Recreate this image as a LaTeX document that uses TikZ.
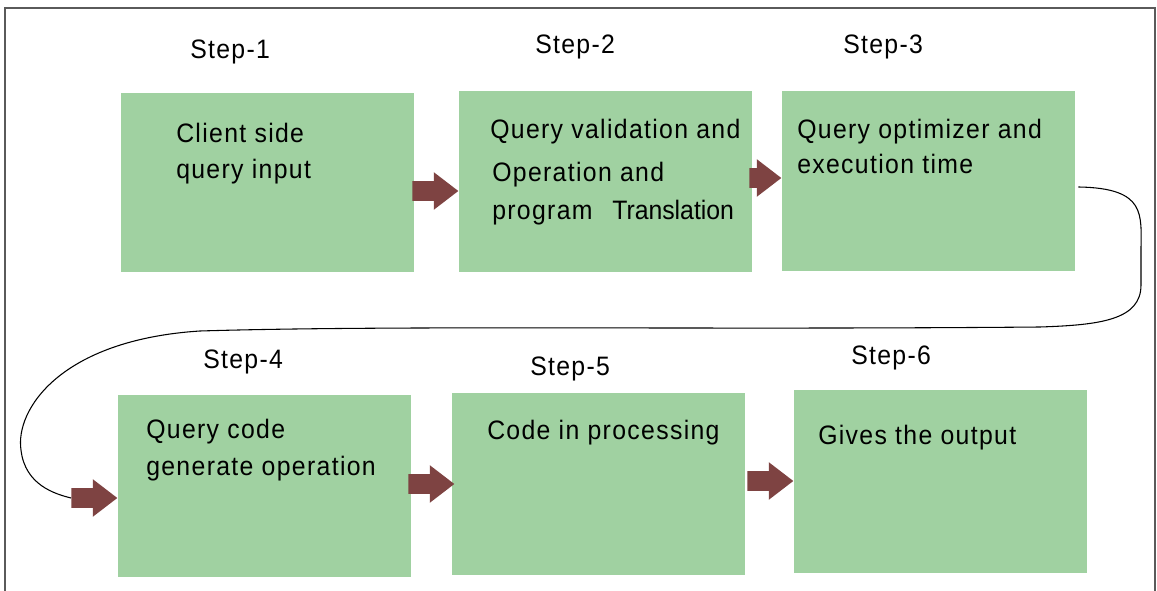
\documentclass[tikz,border=0pt]{standalone}
\usepackage{fontspec}
\setmainfont[FakeStretch=0.93, LetterSpace=5]{Liberation Sans}
\newfontfamily\tightfont[FakeStretch=0.93, LetterSpace=0]{Liberation Sans}
\usetikzlibrary{shapes.arrows}
\definecolor{boxgreen}{HTML}{A0D1A1}
\definecolor{arrowred}{HTML}{7E4342}
\definecolor{framegray}{HTML}{5A5A5A}
\tikzset{
  stepbox/.style={fill=boxgreen, draw=none, inner sep=0pt, minimum width=293*0.75pt},
  label/.style={anchor=base west, inner sep=0pt, font=\fontsize{20}{24}\selectfont},
  blockarrow/.style={single arrow, fill=arrowred, draw=none, inner sep=0pt,
    minimum height=46*0.75pt, single arrow head extend=9*0.75pt,
    single arrow tip angle=75, node contents={\rule{0pt}{14.25pt}}},
  flow/.style={draw=black, line width=0.8pt}
}
\begin{document}
\begin{tikzpicture}[x=0.75pt, y=-0.75pt]
\useasboundingbox (0,0) rectangle (1157,591);
% outer frame, open at the bottom
\draw[framegray, line width=1.2pt] (5,591) -- (5,8) -- (1155,8) -- (1155,591);

% process boxes
\node[stepbox, minimum height=179*0.75pt] (b1) at (267.5,182.5) {};
\node[stepbox, minimum height=181*0.75pt] (b2) at (605.5,181.5) {};
\node[stepbox, minimum height=180*0.75pt] (b3) at (928.5,181) {};
\node[stepbox, minimum height=182*0.75pt] (b4) at (264.5,486) {};
\node[stepbox, minimum height=182*0.75pt] (b5) at (598.5,484) {};
\node[stepbox, minimum height=183*0.75pt] (b6) at (940.5,481.5) {};

% step titles
\node[label] (s1) at (190,59) {Step-1};
\node[label] (s2) at (535,54) {Step-2};
\node[label] (s3) at (843,54) {Step-3};
\node[label] (s4) at (203,369) {Step-4};
\node[label] (s5) at (530,376) {Step-5};
\node[label] (s6) at (851,365) {Step-6};

% box texts
\node[label] (t1a) at (176,143) {Client side};
\node[label] (t1b) at (176,179) {query input};
\node[label] (t2a) at (490,139) {Query validation and};
\node[label] (t2b) at (492,182) {Operation and};
\node[label] (t2c) at (492,220) {program};
\node[label] (t2d) at (612,220) {\tightfont Translation};
\node[label] (t3a) at (797,139) {Query optimizer and};
\node[label] (t3b) at (797,174) {execution time};
\node[label] (t4a) at (146,439) {Query code};
\node[label] (t4b) at (146,475) {generate operation};
\node[label] (t5a) at (487,440) {Code in processing};
\node[label] (t6a) at (818,445) {Gives the output};

% block arrows between the steps
\node (a1) at (b2.west |- 0,191) [blockarrow, anchor=tip];
\node (a2) at (b3.west |- 0,178) [blockarrow, anchor=tip, minimum height=32*0.75pt];
\node (a4) at (b4.west |- 0,498) [blockarrow, anchor=tip];
\node (a5) at ([xshift=2.25pt]b5.west |- 0,484) [blockarrow, anchor=tip];
\node (a6) at (b6.west |- 0,481) [blockarrow, anchor=tip];

% connector from step 3 back to step 4
\coordinate (c0) at ([xshift=3*0.75pt, yshift=-6*0.75pt]b3.east);
\draw[flow] (c0) .. controls (1147,188) and (1141,215) .. (1141,250)
  -- (1141,285) .. controls (1141,320) and (1100,325) .. (1040,327)
  .. controls (700,330) and (400,325) .. (200,331)
  .. controls (60,340) and (15,410) .. (21,450)
  .. controls (25,485) and (55,494) .. (a4.tail);
\end{tikzpicture}
\end{document}
